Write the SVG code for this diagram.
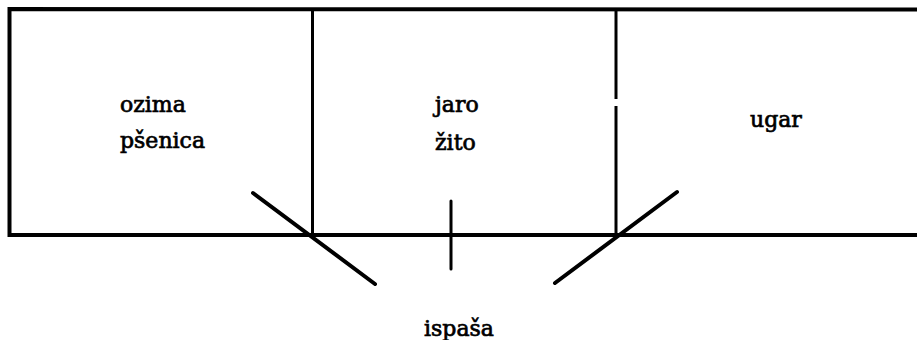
<svg xmlns="http://www.w3.org/2000/svg" width="917" height="340" viewBox="0 0 917 340">
<style>
.frame{stroke:#000;stroke-width:4;fill:none;stroke-linecap:square}
.div{stroke:#000;stroke-width:3;fill:none}
.conn{stroke:#000;stroke-width:4;fill:none;stroke-linecap:round}
.lbl{font-family:"DejaVu Serif",serif;font-size:22px;fill:#000;stroke:#000;stroke-width:0.7}
</style>
<rect width="917" height="340" fill="#fff"/>
<g id="frame">
<path class="frame" d="M917 9.5 L9.5 9 L9.5 235 L917 235"/>
<line class="div" x1="312.5" y1="9" x2="312.5" y2="235"/>
<line class="div" x1="616" y1="9" x2="616" y2="99"/>
<line class="div" x1="616" y1="106" x2="616" y2="235"/>
</g>
<g id="ozima-psenica">
<text class="lbl" x="120" y="112">ozima</text>
<text class="lbl" x="120" y="148">pšenica</text>
</g>
<g id="jaro-zito">
<text class="lbl" x="435" y="112">jaro</text>
<text class="lbl" x="435" y="150">žito</text>
</g>
<g id="ugar">
<text class="lbl" x="750" y="127">ugar</text>
</g>
<g id="ispasa">
<text class="lbl" x="424" y="336">ispaša</text>
</g>
<g id="connectors">
<line class="conn" x1="253" y1="193" x2="375" y2="284"/>
<line class="conn" x1="451" y1="201" x2="451" y2="269" style="stroke-width:3"/>
<line class="conn" x1="555" y1="283" x2="677" y2="192"/>
</g>
</svg>
